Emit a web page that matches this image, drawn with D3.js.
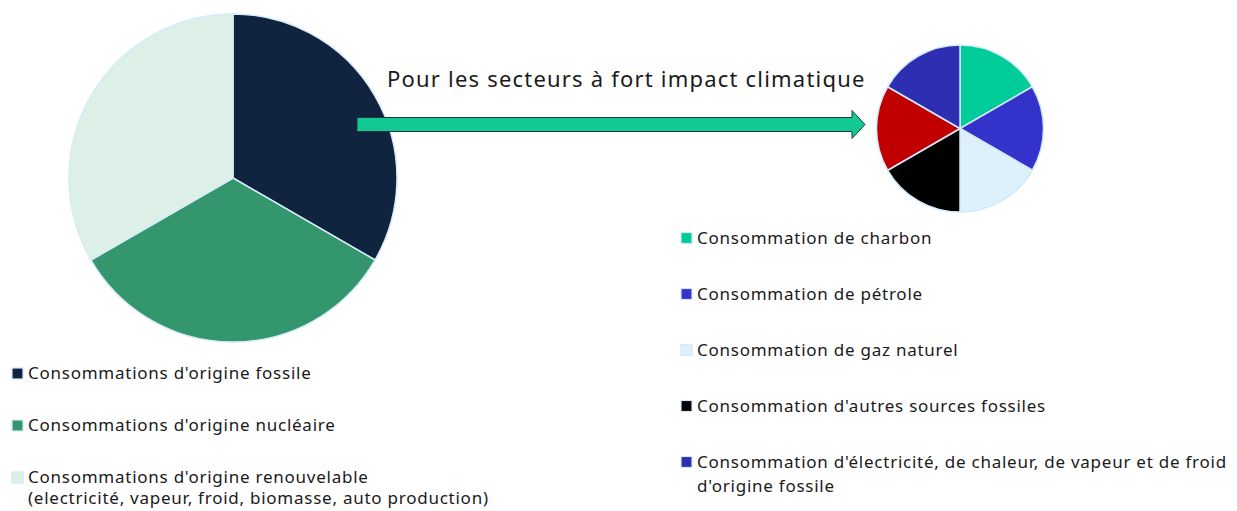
<!DOCTYPE html>
<html><head><meta charset="utf-8">
<script src="https://cdn.jsdelivr.net/npm/d3@7"></script>
<style>body{margin:0;background:#fff}svg{display:block}text{font-family:"Noto Sans",sans-serif;fill:#1a1a1a;font-variant-ligatures:none}</style>
</head><body>
<svg id="c" width="1237" height="511"></svg>
<script>
// Data
const mainCategories = ["Consommations d'origine fossile", "Consommations d'origine nucléaire", "Consommations d'origine renouvelable\n(electricité, vapeur, froid, biomasse, auto production)"];
const mainValues = [1, 1, 1];
const mainColors = ["#10243F", "#33966C", "#DCF0E8"];

const subCategories = ["Consommation de charbon", "Consommation de pétrole", "Consommation de gaz naturel", "Consommation d'autres sources fossiles", "", "Consommation d'électricité, de chaleur, de vapeur et de froid\nd'origine fossile"];
const subValues = [1, 1, 1, 1, 1, 1];
const subColors = ["#00CC99", "#3333CC", "#DDF0FC", "#000000", "#C00000", "#2E2EB2"];

const titleText = "Pour les secteurs à fort impact climatique";

const svg = d3.select("#c");
const pie = d3.pie().sort(null).value(d => d);

function drawPie(values, colors, cx, cy, r, stroke) {
  const arc = d3.arc().innerRadius(0).outerRadius(r);
  const g = svg.append("g").attr("transform", `translate(${cx},${cy})`);
  g.selectAll("path").data(pie(values)).join("path")
    .attr("d", arc).attr("fill", (d, i) => colors[i])
    .attr("stroke", stroke).attr("stroke-width", 1.5).attr("stroke-linejoin", "round");
}
drawPie(mainValues, mainColors, 233, 178, 164, "#D7EBF8");
drawPie(subValues, subColors, 960, 128.5, 83.5, "#D2E8F8");

// Arrow
const ax0 = 357, ax1 = 852, tip = 865, ay = 124.5, sh = 7, hh = 14;
svg.append("path")
  .attr("d", `M${ax0},${ay - sh}L${ax1},${ay - sh}L${ax1},${ay - hh}L${tip},${ay}L${ax1},${ay + hh}L${ax1},${ay + sh}L${ax0},${ay + sh}Z`)
  .attr("fill", "#12C996").attr("stroke", "#1F3A33").attr("stroke-width", 1);

svg.append("text").attr("x", 387).attr("y", 87).attr("font-size", 22).attr("letter-spacing", 1.2).text(titleText);

function legend(cats, colors, x, y0, step, fs, lineH) {
  const g = svg.append("g");
  let y = y0;
  cats.forEach((c, i) => {
    if (!c) return;
    const lines = c.split("\n");
    g.append("rect").attr("x", x).attr("y", y - 5.5).attr("width", 11).attr("height", 11)
      .attr("fill", colors[i]).attr("stroke", "#D2E8F8").attr("stroke-width", 1.2);
    const t = g.append("text").attr("x", x + 16).attr("y", y).attr("font-size", fs).attr("letter-spacing", 0.75);
    lines.forEach((l, j) => t.append("tspan").attr("x", x + 16).attr("dy", j === 0 ? "0.35em" : lineH).text(l));
    y += step;
  });
}
legend(mainCategories, mainColors, 12, 373.5, 52, 17, 21);
legend(subCategories, subColors, 681, 238, 56, 17, 24);
</script>
</body></html>
